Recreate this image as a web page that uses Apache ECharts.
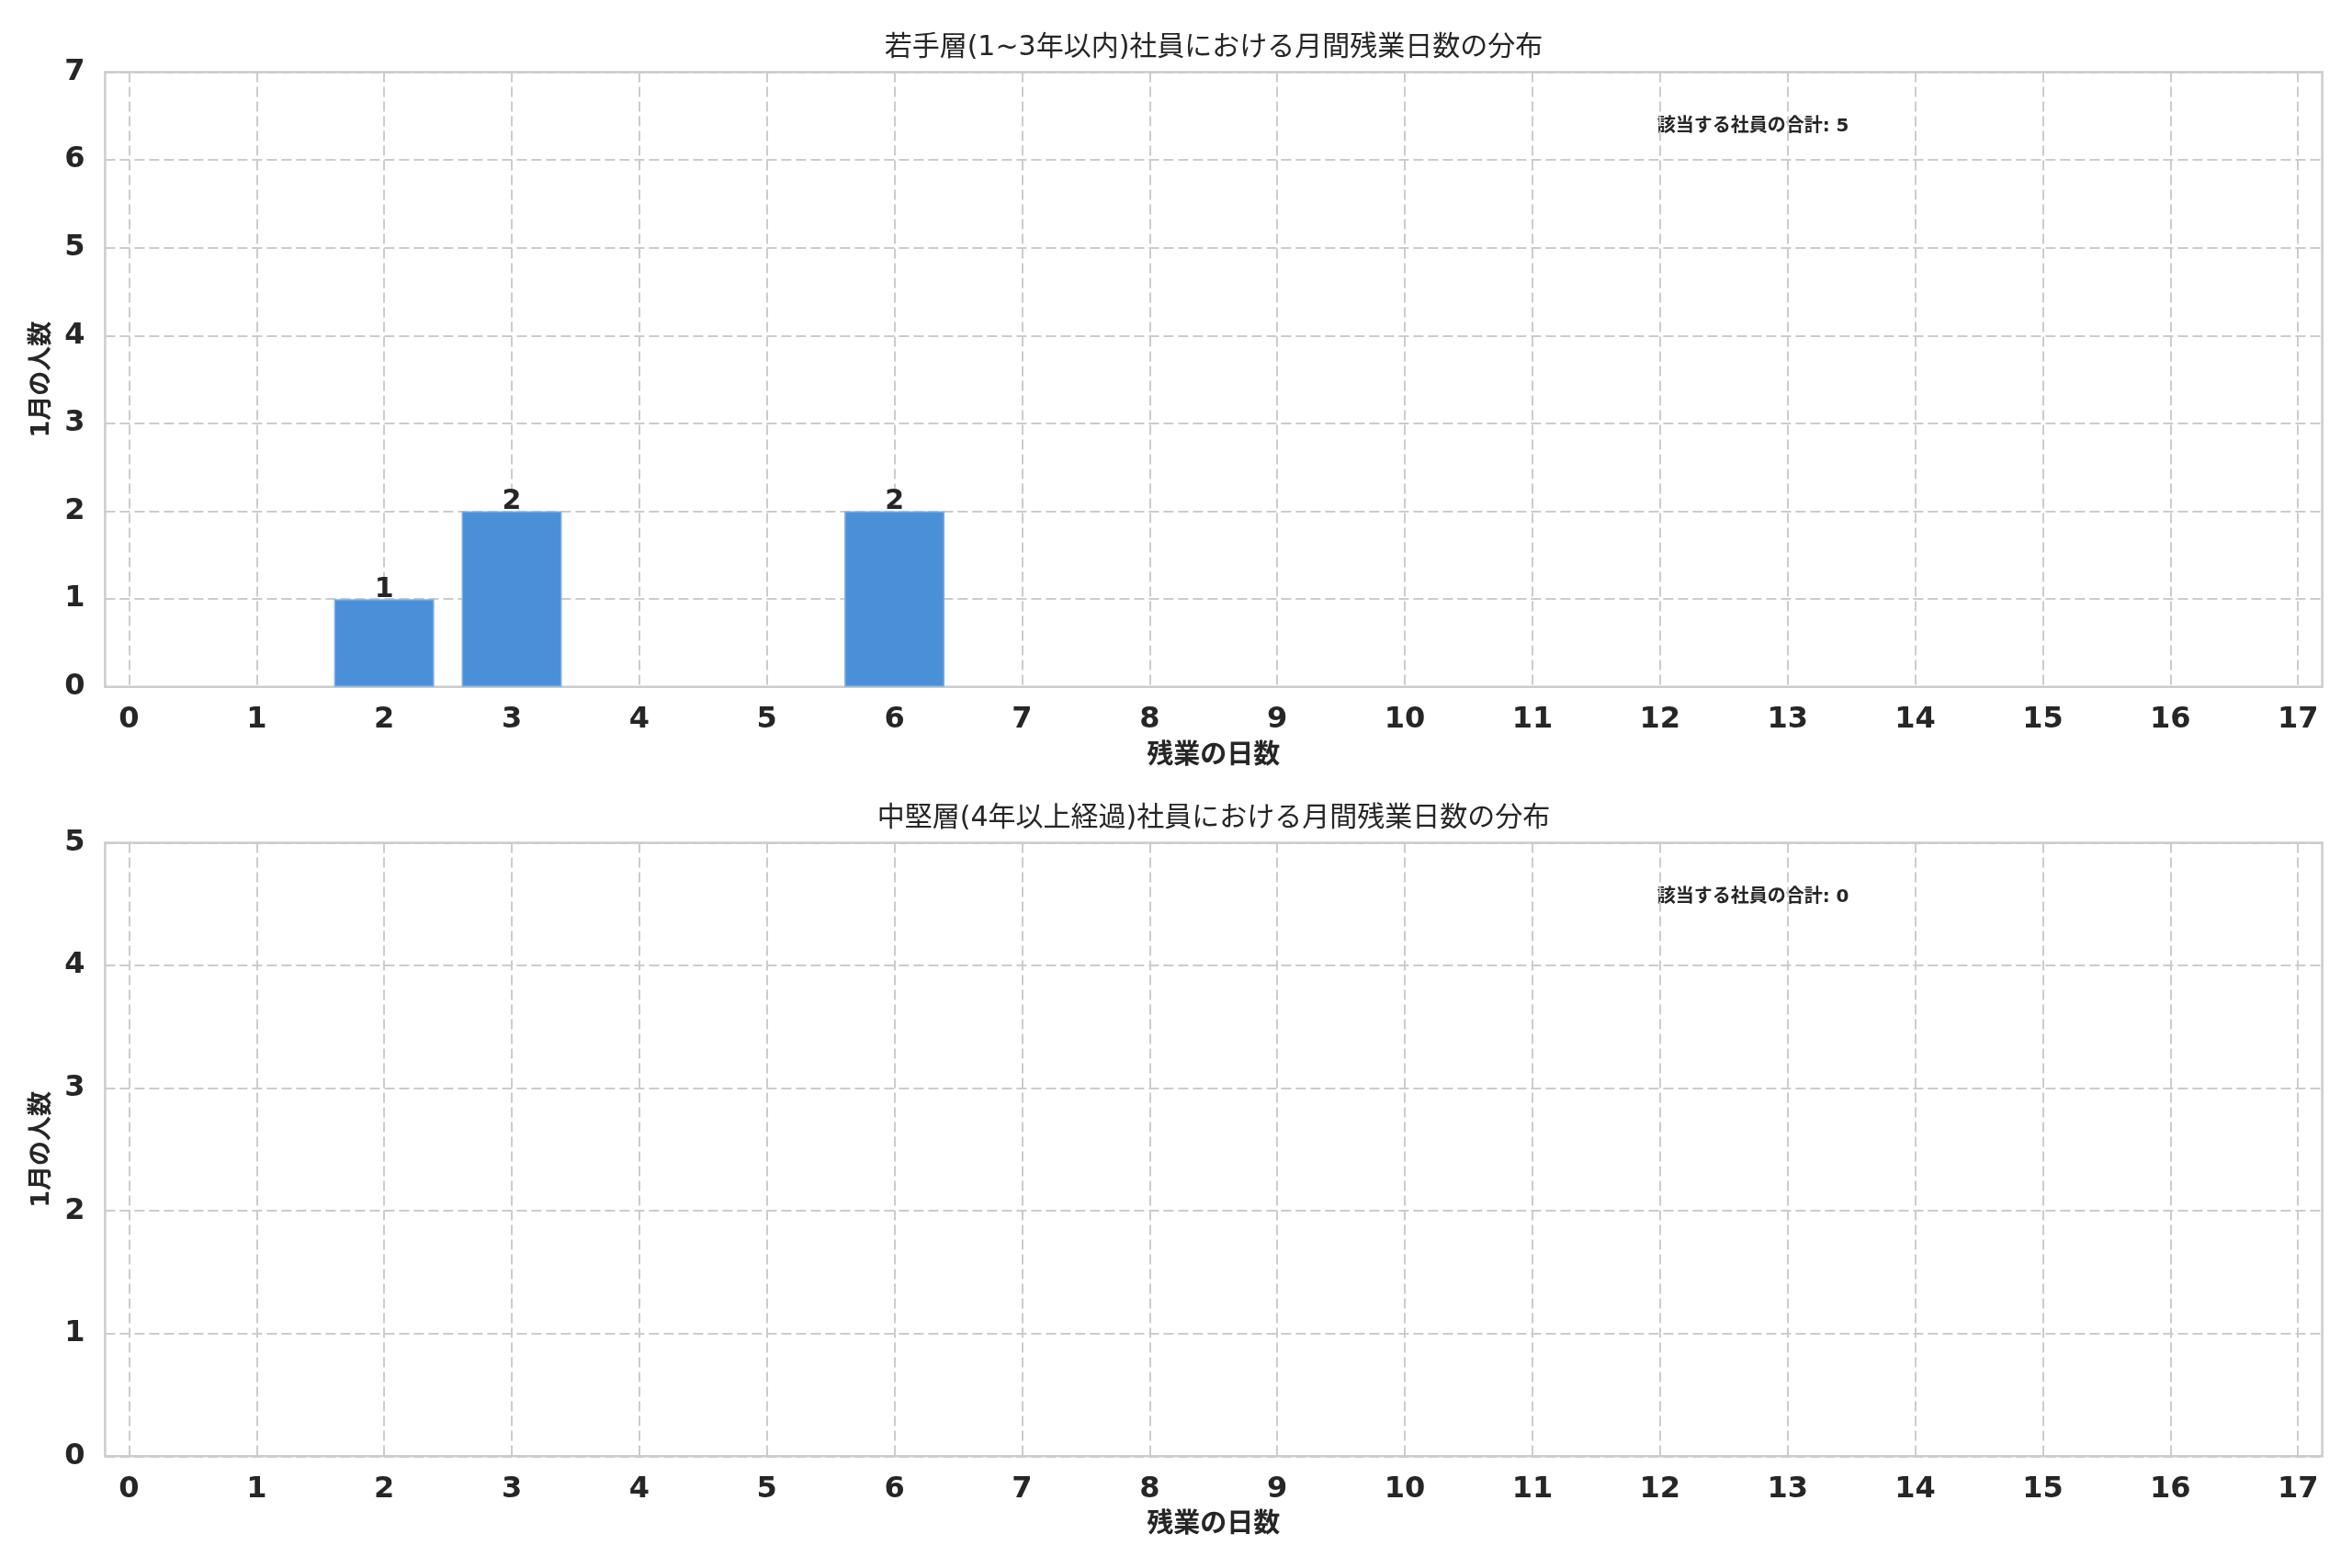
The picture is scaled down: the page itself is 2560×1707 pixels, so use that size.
<!DOCTYPE html>
<html>
<head>
<meta charset="utf-8">
<script src="https://cdn.jsdelivr.net/npm/echarts@6/dist/echarts.min.js"></script>
<style>
html,body{margin:0;padding:0;background:#fff;}
#main{width:2560px;height:1707px;}
</style>
</head>
<body>
<div id="main"></div>
<script>
// ---- data ----
const xValues = [0,1,2,3,4,5,6,7,8,9,10,11,12,13,14,15,16,17];
const countsLow  = [0,0,1,2,0,0,2,0,0,0,0,0,0,0,0,0,0,0];
const countsHigh = [0,0,0,0,0,0,0,0,0,0,0,0,0,0,0,0,0,0];
const yMaxLow = 7;
const yMaxHigh = 5;
const totals = [5, 0];
const titles = [
  '若手層(1~3年以内)社員における月間残業日数の分布',
  '中堅層(4年以上経過)社員における月間残業日数の分布'
];
const xName = '残業の日数';
const yName = '1月の人数';
const noteLabel = '該当する社員の合計';

// ---- layout ----
const chart = echarts.init(document.getElementById('main'), null, {renderer:'canvas'});
const frameL = 114.4, frameR = 2527.6;
const innerL = 140.4, innerR = 2501.2;
const panels = [
  {top: 78.4, bottom: 747.8},
  {top: 917.6, bottom: 1585.3}
];
const unitPx = (innerR - innerL) / (xValues.length - 1);
const barW = unitPx * 0.785;

const FONT = "'DejaVu Sans', 'Noto Sans CJK JP', sans-serif";
const TXT = '#262626';
const GRIDC = '#cccccc';

const grids = [], xAxes = [], yAxes = [], series = [], graphics = [];
const countsList = [countsLow, countsHigh];
const yMaxList = [yMaxLow, yMaxHigh];

panels.forEach((p, k) => {
  const h = p.bottom - p.top;
  grids.push({left: frameL, width: frameR - frameL, top: p.top, height: h,
    show: true, borderColor: GRIDC, borderWidth: 2.5, backgroundColor: 'transparent'});
  grids.push({left: innerL, width: innerR - innerL, top: p.top, height: h, show: false});
  const gOuter = 2*k, gInner = 2*k + 1;

  xAxes.push({gridIndex: gOuter, type: 'value', min: 0, max: 1, show: false});
  xAxes.push({
    gridIndex: gInner, type: 'value', min: xValues[0], max: xValues[xValues.length-1], interval: 1,
    axisLine: {show: false}, axisTick: {show: false},
    axisLabel: {show: true, margin: 20, fontSize: 32, fontWeight: 'bold', color: TXT, fontFamily: FONT},
    splitLine: {show: true, lineStyle: {color: GRIDC, width: 2, type: [11, 5]}},
    name: xName, nameLocation: 'middle', nameGap: 61,
    nameTextStyle: {fontSize: 29, fontWeight: 'bold', color: TXT, fontFamily: FONT}
  });
  yAxes.push({
    gridIndex: gOuter, type: 'value', min: 0, max: yMaxList[k], interval: 1,
    axisLine: {show: false}, axisTick: {show: false},
    axisLabel: {show: true, margin: 22, fontSize: 32, fontWeight: 'bold', color: TXT, fontFamily: FONT},
    splitLine: {show: true, lineStyle: {color: GRIDC, width: 2, type: [11, 5]}},
    name: yName, nameLocation: 'middle', nameGap: 52, nameRotate: 90,
    nameTextStyle: {fontSize: 27, fontWeight: 'bold', color: TXT, fontFamily: FONT}
  });
  yAxes.push({gridIndex: gInner, type: 'value', min: 0, max: yMaxList[k], show: false});

  const data = [];
  countsList[k].forEach((v, i) => { if (v > 0) data.push([xValues[i], v]); });
  series.push({
    type: 'bar', xAxisIndex: 2*k + 1, yAxisIndex: 2*k + 1,
    data: data, barWidth: barW,
    itemStyle: {color: '#4a90d9', borderColor: '#7eb0e6', borderWidth: 1.5},
    label: {show: true, position: 'top', distance: -5, fontSize: 30, fontWeight: 'bold',
      color: TXT, fontFamily: FONT},
    silent: true, animation: false
  });

  graphics.push({
    type: 'text', x: (frameL + frameR) / 2, y: p.top - 26,
    style: {text: titles[k], fill: TXT, font: '30px ' + FONT, align: 'center', verticalAlign: 'middle'}
  });
  graphics.push({
    type: 'text', x: frameL + 0.7 * (frameR - frameL), y: p.top + 0.088 * h,
    style: {text: noteLabel + ': ' + totals[k], fill: TXT, font: 'bold 20px ' + FONT,
      align: 'left', verticalAlign: 'middle'}
  });
});

chart.setOption({
  animation: false,
  backgroundColor: '#ffffff',
  grid: grids, xAxis: xAxes, yAxis: yAxes, series: series,
  graphic: graphics
});
</script>
</body>
</html>
